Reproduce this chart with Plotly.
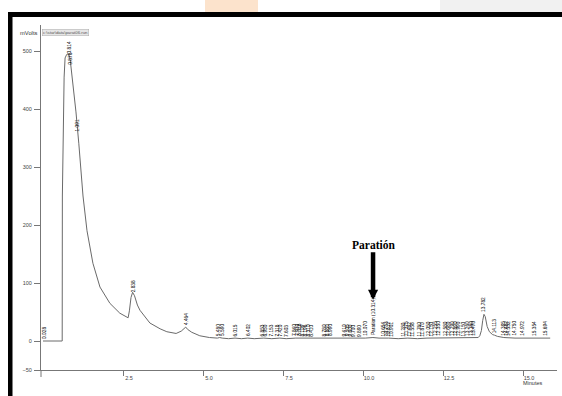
import numpy as np
import plotly.graph_objects as go

# ---- data ----
time_min = [0.0, 0.60, 0.605, 0.63, 0.66, 0.69, 0.74, 0.78, 0.82, 0.85, 0.90, 0.96, 1.00, 1.03,
            1.12, 1.25, 1.375, 1.56, 1.78, 2.09, 2.40, 2.66, 2.70, 2.75, 2.80, 2.86, 2.95, 3.03,
            3.34, 3.66, 3.87, 4.16, 4.32, 4.42, 4.46, 4.52, 4.65, 4.90, 5.20, 5.45, 5.52, 5.60,
            5.80, 6.00, 6.20, 6.40, 6.60, 6.90, 7.15, 7.40, 7.60, 7.90, 8.10, 8.40, 8.70, 8.90,
            9.20, 9.50, 9.80, 10.07, 10.31, 10.50, 10.80, 11.10, 11.40, 11.70, 12.00, 12.30,
            12.60, 12.90, 13.20, 13.50, 13.60, 13.65, 13.70, 13.74, 13.78, 13.82, 13.88, 13.95,
            14.05, 14.11, 14.20, 14.40, 14.60, 14.75, 15.00, 15.35, 15.69, 15.85]
signal_mv = [0, 0, 250, 390, 455, 488, 494, 495, 492, 485, 462, 435, 412, 395,
             340, 250, 190, 134, 93, 65, 48, 40, 52, 75, 84, 78, 62, 53,
             31, 21, 16, 13, 17, 23, 24, 20, 15, 9, 6, 5, 6, 5,
             4, 5, 4, 5, 4, 5, 4, 5, 4, 5, 5, 4, 4, 5,
             4, 5, 4, 5, 6, 5, 5, 4, 5, 4, 5, 5,
             5, 5, 5, 5, 6, 9, 18, 35, 46, 42, 25, 16,
             11, 10, 8, 6, 5, 5, 5, 5, 5, 5]

label_times = [0.028, 0.814, 0.876, 1.091, 2.838, 4.464, 5.480, 5.590, 6.015, 6.402,
               6.853, 6.950, 7.153, 7.318, 7.420, 7.603, 7.840, 7.930, 8.018, 8.109,
               8.196, 8.310, 8.410, 8.780, 8.880, 8.990, 9.410, 9.505, 9.600, 9.700,
               9.890, 10.070, 10.314, 10.654, 10.733, 10.812, 10.901, 11.280, 11.375,
               11.462, 11.558, 11.760, 11.870, 12.050, 12.150, 12.255, 12.350, 12.580,
               12.680, 12.790, 12.890, 12.990, 13.150, 13.260, 13.380, 13.470, 13.782,
               14.113, 14.395, 14.482, 14.552, 14.750, 14.972, 15.354, 15.694]
label_texts = [f"{t:.3f}" for t in label_times]
label_texts[label_times.index(10.314)] = "Paration (10.314)"

y_ticks = [-50, 0, 100, 200, 300, 400, 500]
x_ticks = [2.5, 5.0, 7.5, 10.0, 12.5, 15.0]
x_tick_text = ["2.5", "5.0", "7.5", "10.0", "12.5", "15.0"]

arrow_target = ("Paratión", 10.314, 71)

# ---- geometry helpers for decorations (pixel -> paper) ----
W, H = 562, 396
ML, MR, MT, MB = 41, 5, 25, 26
PW, PH = W - ML - MR, H - MT - MB


def px(x):
    return (x - ML) / PW


def py(y):
    return (H - MB - y) / PH


fig = go.Figure()
fig.add_trace(go.Scatter(x=time_min, y=signal_mv, mode="lines",
                         line=dict(color="#6a6a6a", width=1), hoverinfo="skip"))

label_y = np.interp(label_times, time_min, signal_mv)
for t, txt, yv in zip(label_times, label_texts, label_y):
    fig.add_annotation(x=t, y=float(yv), text=txt, textangle=-90, showarrow=False,
                       xanchor="center", yanchor="bottom", yshift=1, borderpad=0,
                       font=dict(size=4.8, color="#000", family="Liberation Sans"))

name, tx, ty = arrow_target
fig.add_annotation(x=tx, y=ty, text=f"<b>{name}</b>", showarrow=True, ax=0, ay=-55,
                   arrowhead=2, arrowwidth=4.5, arrowsize=0.45, arrowcolor="#000",
                   font=dict(family="Liberation Serif", size=11.5, color="#000"))

# axis texts
fig.add_annotation(xref="paper", yref="paper", x=px(38), y=py(29), xanchor="right",
                   text="mVolts", showarrow=False, borderpad=0,
                   font=dict(size=5.8, color="#333", family="Liberation Sans"))
fig.add_annotation(xref="paper", yref="paper", x=px(42), y=py(29), xanchor="left",
                   text="c:\\star\\data\\parat06.run", showarrow=False, bgcolor="#e6e6e6",
                   bordercolor="#aaa", borderwidth=0.5, borderpad=0.5,
                   font=dict(size=4.3, color="#555", family="Liberation Sans"))
fig.add_annotation(xref="paper", yref="paper", x=px(545), y=py(388), text="Minutes",
                   showarrow=False, font=dict(size=5.5, color="#333", family="Liberation Sans"))

shapes = [
    # faint tints above the frame
    dict(type="rect", xref="paper", yref="paper", x0=px(205), x1=px(258), y0=py(12), y1=py(0),
         fillcolor="rgba(245,175,110,0.35)", line=dict(width=0), layer="below"),
    dict(type="rect", xref="paper", yref="paper", x0=px(440), x1=px(562), y0=py(12), y1=py(0),
         fillcolor="#f1f1f1", line=dict(width=0), layer="below"),
    # black frame
    dict(type="rect", xref="paper", yref="paper", x0=px(8), x1=px(12.5), y0=py(396), y1=py(12),
         fillcolor="#000", line=dict(width=0)),
    dict(type="rect", xref="paper", yref="paper", x0=px(8), x1=px(562), y0=py(17), y1=py(12),
         fillcolor="#000", line=dict(width=0)),
    # y-axis extension below x-axis
    dict(type="line", xref="paper", yref="paper", x0=0, x1=0, y0=0, y1=py(377),
         line=dict(color="#777", width=1)),
]

fig.update_layout(
    width=W, height=H, margin=dict(l=ML, r=MR, t=MT, b=MB, autoexpand=False),
    paper_bgcolor="#ffffff", plot_bgcolor="#ffffff", showlegend=False,
    shapes=shapes,
    xaxis=dict(range=[(ML - 43) / 32, (W - MR - 43) / 32], showline=True, linecolor="#777",
               linewidth=1, ticks="outside", ticklen=5, tickcolor="#777", tickvals=x_ticks,
               ticktext=x_tick_text, showgrid=False, zeroline=False, automargin=False,
               tickfont=dict(size=5.5, color="#444", family="Liberation Sans"),
               ticklabelshift=6, ticklabelstandoff=-3),
    yaxis=dict(range=[-50, (341 - MT) / 0.58], showline=True, linecolor="#777", linewidth=1,
               ticks="outside", ticklen=6, tickcolor="#777", tickvals=y_ticks, showgrid=False,
               zeroline=False, automargin=False,
               tickfont=dict(size=5.5, color="#444", family="Liberation Sans"),
               ticklabelstandoff=1),
)

fig.write_html("out.html", config={"displayModeBar": False},
               post_script="document.body.style.margin='0';")
